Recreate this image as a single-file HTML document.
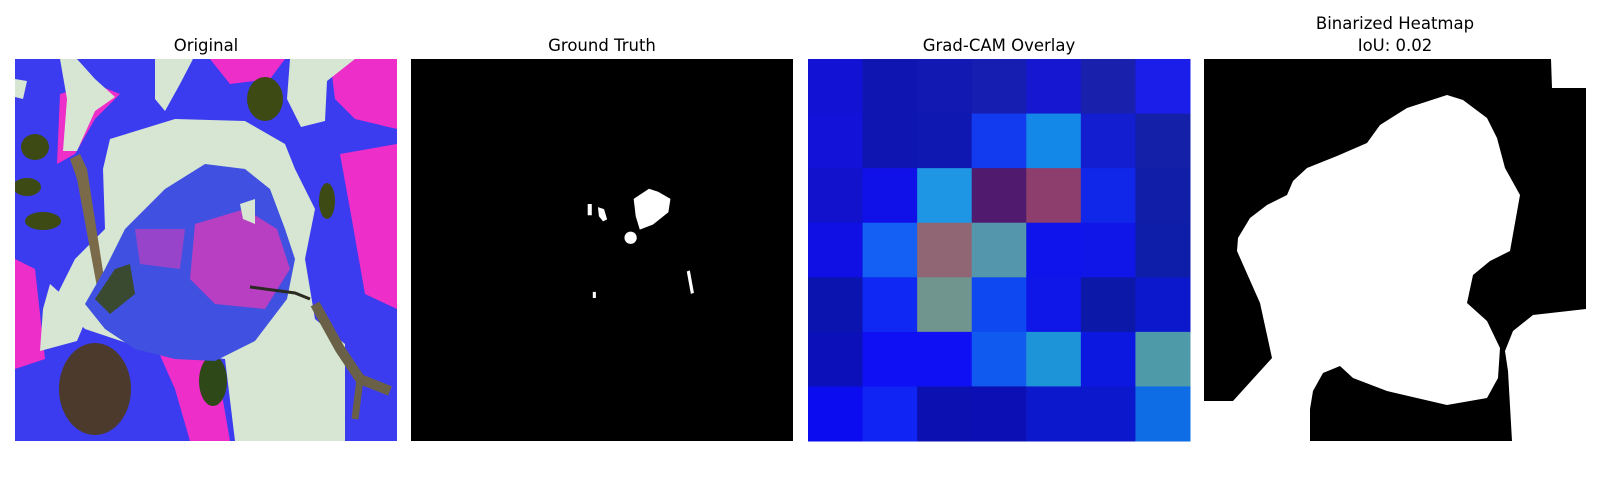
<!DOCTYPE html>
<html><head><meta charset="utf-8">
<style>
html,body{margin:0;padding:0;background:#fff;width:1600px;height:500px;overflow:hidden}
svg{display:block}
text{font-family:"DejaVu Sans","Liberation Sans",sans-serif;font-size:16.5px;fill:#000}
</style></head>
<body>
<svg id="fig" width="1600" height="500" viewBox="0 0 1600 500">
  <text x="206" y="51" text-anchor="middle">Original</text>
  <text x="602" y="51" text-anchor="middle">Ground Truth</text>
  <text x="999" y="51" text-anchor="middle">Grad-CAM Overlay</text>
  <text x="1395" y="29" text-anchor="middle">Binarized Heatmap</text>
  <text x="1395" y="51" text-anchor="middle">IoU: 0.02</text>

  <g transform="translate(15,59)">
    <defs><clipPath id="c1"><rect width="382" height="382"/></clipPath></defs>
    <g clip-path="url(#c1)">
      <rect width="382" height="382" fill="#3b3cf0"/>
      <polygon fill="#ee2ec8" points="315,0 382,0 382,70 340,60 320,40"/>
      <polygon fill="#ee2ec8" points="325,95 382,85 382,250 350,235 335,150"/>
      <polygon fill="#ee2ec8" points="195,0 270,0 255,20 215,25"/>
      <polygon fill="#ee2ec8" points="45,35 80,25 105,35 80,60 60,95 42,105"/>
      <polygon fill="#ee2ec8" points="140,285 200,295 215,382 175,382 160,330"/>
      <polygon fill="#ee2ec8" points="0,200 20,210 30,300 0,310"/>
      <polygon fill="#d6e6d2" points="95,80 160,60 230,62 270,85 280,110 300,150 290,200 300,260 330,285 330,382 220,382 210,300 130,290 70,270 40,240 60,200 90,170 88,110"/>
      <polygon fill="#d6e6d2" points="45,0 62,0 80,20 100,38 80,52 62,92 48,92 52,40"/>
      <polygon fill="#d6e6d2" points="140,0 178,0 165,25 150,52 140,40"/>
      <polygon fill="#d6e6d2" points="275,0 340,0 312,22 310,62 286,68 272,40"/>
      <polygon fill="#d6e6d2" points="35,225 72,258 62,282 25,292 28,250"/>
      <polygon fill="#d6e6d2" points="0,20 12,22 8,40 0,38"/>
      <ellipse cx="20" cy="88" rx="14" ry="13" fill="#3d4a14"/>
      <ellipse cx="12" cy="128" rx="14" ry="9" fill="#3d4a14"/>
      <ellipse cx="28" cy="162" rx="18" ry="9" fill="#3d4a14"/>
      <ellipse cx="80" cy="330" rx="36" ry="46" fill="#4c3a2c"/>
      <ellipse cx="198" cy="322" rx="14" ry="25" fill="#2e4818"/>
      <ellipse cx="250" cy="40" rx="18" ry="22" fill="#3d4a14"/>
      <ellipse cx="312" cy="142" rx="8" ry="18" fill="#3d4a14"/>
      <polygon fill="#7a6a4a" points="55,100 65,95 72,110 90,225 82,228 62,120"/>
      <polygon fill="#4050e0" points="70,245 90,210 110,170 150,130 190,105 230,110 255,130 270,170 280,200 272,240 240,282 200,302 160,300 120,290 90,270"/>
      <polygon fill="#3a4a30" points="80,240 100,210 115,205 120,235 95,255"/>
      <polygon fill="#e03ab8" opacity="0.75" points="180,165 230,150 262,170 275,210 250,250 200,245 175,220"/>
      <polygon fill="#e03ab8" opacity="0.55" points="120,170 170,170 165,210 125,205"/>
      <polygon fill="#d6e6d2" points="225,145 240,140 240,165 228,160"/>
      <polyline points="235,228 280,234 295,240" fill="none" stroke="#2a2a20" stroke-width="3"/>
      <polyline points="300,245 325,290 345,320 375,332" fill="none" stroke="#6a6048" stroke-width="10"/>
      <polyline points="345,320 340,360" fill="none" stroke="#6a6048" stroke-width="7"/>
    </g>
  </g>

  <g transform="translate(411,59) scale(1.0214) translate(-403,-58)">
    <rect x="403" y="58" width="374" height="374" fill="#000"/>
    <polygon fill="#fff" points="621,195 636,185 645,188 657,195 655,208 640,220 627,225 623,212"/>
    <circle cx="618" cy="233" r="6" fill="#fff"/>
    <rect x="576" y="200" width="4" height="11" fill="#fff"/>
    <polygon fill="#fff" points="586,203 592,205 595,215 591,217 587,212"/>
    <polygon fill="#fff" points="673,266 676,265 680,287 677,288" />
    <rect x="581" y="286" width="3" height="6" fill="#fff"/>
  </g>

  <g id="cam"></g>

  <g transform="translate(1204,59)">
    <rect width="382" height="382" fill="#fff"/>
    <polygon fill="#000" points="0,0 347,0 348,29 382,29 382,250 329,256 309,272 301,292 304,312 308,382 106,382 106,350 109,332 119,314 136,307 149,319 183,332 243,346 283,339 294,319 296,289 283,262 263,244 269,216 286,202 306,192 316,136 301,109 293,79 283,59 259,41 243,36 203,49 176,66 163,84 133,97 103,109 89,122 83,136 63,146 46,159 34,179 33,192 56,244 68,299 29,342 0,342"/>
  </g>
</svg>
<script>
const camRows = [0,1,2,3,4,5,6];
const camCols = [0,1,2,3,4,5,6];
const camRow0 = ["#1212d4","#0f15b0","#1219b3","#151eb0","#1518d0","#1820ac","#1a1ee8"];
const camRow1 = ["#1212d8","#0f15b0","#0f18b0","#123aef","#1488e8","#121ed0","#1420a8"];
const camRow2 = ["#1212cc","#1010e8","#1e96e4","#501a6e","#8e3e6c","#1026e8","#101ea8"];
const camRow3 = ["#1010e4","#1460f4","#906674","#5496ac","#1014ec","#1116e8","#0f1ea8"];
const camRow4 = ["#0c14b0","#1028f4","#70948e","#0e48f0","#0e16e8","#0c18a8","#0c18cc"];
const camRow5 = ["#0c10b8","#1010f4","#1010f4","#105af0","#1e94d8","#0c18e0","#4e9aa8"];
const camRow6 = ["#0c0cf0","#1024f4","#0c10b0","#0c10b4","#0c18cc","#0c18cc","#0e6ce4"];
const camValues = [camRow0,camRow1,camRow2,camRow3,camRow4,camRow5,camRow6];

const X0 = 808, Y0 = 59, SIZE = 382;
function xScale(c){ return X0 + c * SIZE / camCols.length; }
function yScale(r){ return Y0 + r * SIZE / camRows.length; }
const g = document.getElementById('cam');
const NS = 'http://www.w3.org/2000/svg';
camRows.forEach(r => {
  camCols.forEach(c => {
    const el = document.createElementNS(NS, 'rect');
    const x = xScale(c), y = yScale(r);
    el.setAttribute('x', x);
    el.setAttribute('y', y);
    el.setAttribute('width', xScale(c + 1) - x + 0.5);
    el.setAttribute('height', yScale(r + 1) - y + 0.5);
    el.setAttribute('fill', camValues[r][c]);
    
    
    g.appendChild(el);
  });
});
</script>
</body></html>
